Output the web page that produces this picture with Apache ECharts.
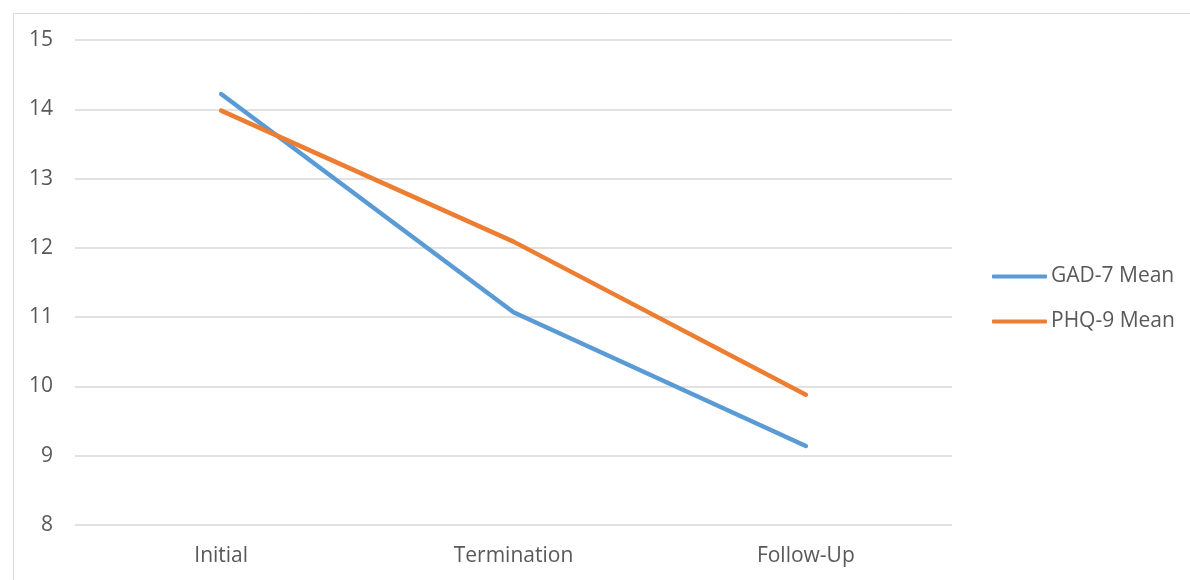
<!DOCTYPE html>
<html>
<head>
<meta charset="utf-8">
<script src="https://cdn.jsdelivr.net/npm/echarts@6/dist/echarts.min.js"></script>
<style>html,body{margin:0;padding:0;background:#fff;}#chart{width:1190px;height:580px;}</style>
</head>
<body>
<div id="chart"></div>
<script>
const categories = ['Initial', 'Termination', 'Follow-Up'];
const gad7Mean = [14.22, 11.07, 9.14];
const phq9Mean = [13.98, 12.09, 9.88];
const yTicks = { min: 8, max: 15, interval: 1 };

const chart = echarts.init(document.getElementById('chart'));
const textColor = '#595959';
const font = 'Open Sans';
const fs = 21;
chart.setOption({
  animation: false,
  backgroundColor: '#ffffff',
  graphic: [{
    type: 'rect',
    left: 11, top: 11,
    shape: { width: 1300, height: 700 },
    style: { fill: 'none', stroke: '#D9D9D9', lineWidth: 1 },
    silent: true, z: -1
  }],
  grid: { left: 75, right: 238, top: 40, bottom: 55, containLabel: false },
  legend: {
    orient: 'vertical',
    left: 987,
    top: 259,
    icon: 'roundRect',
    itemWidth: 55,
    itemHeight: 4,
    itemGap: 20,
    textStyle: { color: textColor, fontSize: fs, fontFamily: font, lineHeight: 25, padding: [0, 0, 0, -1] },
    data: ['GAD-7 Mean', 'PHQ-9 Mean']
  },
  xAxis: {
    type: 'category',
    data: categories,
    boundaryGap: true,
    axisLine: { show: false },
    axisTick: { show: false },
    axisLabel: { color: textColor, fontSize: fs, fontFamily: font, margin: 21 }
  },
  yAxis: {
    type: 'value',
    min: yTicks.min, max: yTicks.max, interval: yTicks.interval,
    axisLine: { show: false },
    axisTick: { show: false },
    splitLine: { lineStyle: { color: '#D9D9D9', width: 1.5 } },
    axisLabel: { color: textColor, fontSize: fs, fontFamily: font, margin: 22 }
  },
  series: [
    {
      name: 'GAD-7 Mean', type: 'line', data: gad7Mean,
      symbol: 'none', itemStyle: { color: '#5B9BD5' },
      lineStyle: { color: '#5B9BD5', width: 4.5, cap: 'round', join: 'round' }
    },
    {
      name: 'PHQ-9 Mean', type: 'line', data: phq9Mean,
      symbol: 'none', itemStyle: { color: '#ED7D31' },
      lineStyle: { color: '#ED7D31', width: 4.5, cap: 'round', join: 'round' }
    }
  ]
});
</script>
</body>
</html>
